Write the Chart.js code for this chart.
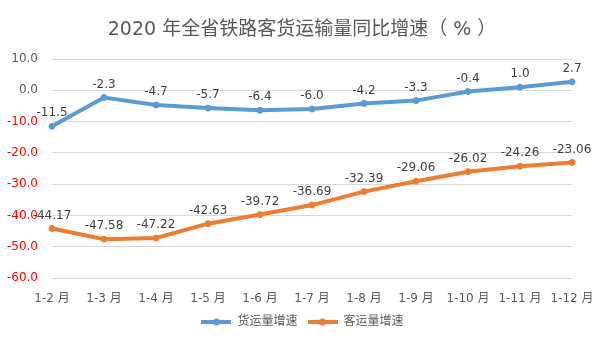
<!DOCTYPE html>
<html>
<head>
<meta charset="utf-8">
<script src="https://cdn.jsdelivr.net/npm/chart.js@4/dist/chart.umd.min.js"></script>
<style>
  html, body { margin: 0; padding: 0; background: #fff; }
  #wrap { width: 605px; height: 340px; }
</style>
</head>
<body>
<div id="wrap"><canvas id="myChart"></canvas></div>
<script>
// months
const months = ['1-2 月', '1-3 月', '1-4 月', '1-5 月', '1-6 月', '1-7 月', '1-8 月', '1-9 月', '1-10 月', '1-11 月', '1-12 月'];
// freight growth (%)
const freight = [-11.5, -2.3, -4.7, -5.7, -6.4, -6.0, -4.2, -3.3, -0.4, 1.0, 2.7];
// passenger growth (%)
const passenger = [-44.17, -47.58, -47.22, -42.63, -39.72, -36.69, -32.39, -29.06, -26.02, -24.26, -23.06];
const freightDigits = 1;
const passengerDigits = 2;
const titleText = '2020 年全省铁路客货运输量同比增速（ % ）';

const FONT = "'DejaVu Sans', 'Noto Sans CJK SC', sans-serif";

// legend marker: line with a dot in the middle
function legendMarker(color) {
    const c = document.createElement('canvas');
    c.width = 30; c.height = 8;
    const g = c.getContext('2d');
    g.strokeStyle = color;
    g.lineWidth = 4;
    g.beginPath(); g.moveTo(0, 4); g.lineTo(30, 4); g.stroke();
    g.fillStyle = color;
    g.beginPath(); g.arc(15, 4, 3.5, 0, Math.PI * 2); g.fill();
    return c;
}

// title + value labels above each point
const extras = {
    id: 'extras',
    afterDraw(chart) {
        const ctx = chart.ctx;
        ctx.save();
        ctx.font = '19px ' + FONT;
        ctx.fillStyle = '#595959';
        ctx.textAlign = 'center';
        ctx.textBaseline = 'middle';
        ctx.fillText(titleText, 302, 30);
        ctx.restore();
    },
    afterDatasetsDraw(chart) {
        const ctx = chart.ctx;
        ctx.save();
        ctx.font = '12px ' + FONT;
        ctx.fillStyle = '#404040';
        ctx.textAlign = 'center';
        ctx.textBaseline = 'bottom';
        chart.data.datasets.forEach(function(ds, i) {
            const meta = chart.getDatasetMeta(i);
            meta.data.forEach(function(pt, j) {
                ctx.fillText(ds.data[j].toFixed(ds.digits), pt.x, pt.y - 7);
            });
        });
        ctx.restore();
    }
};

const ctx = document.getElementById('myChart').getContext('2d');
new Chart(ctx, {
    type: 'line',
    data: {
        labels: months,
        datasets: [{
            label: '货运量增速',
            data: freight,
            digits: freightDigits,
            borderColor: '#5B9BD5',
            backgroundColor: '#5B9BD5',
            borderWidth: 4,
            pointRadius: 3,
            pointBorderWidth: 1,
            pointHoverRadius: 3,
            tension: 0
        }, {
            label: '客运量增速',
            data: passenger,
            digits: passengerDigits,
            borderColor: '#ED7D31',
            backgroundColor: '#ED7D31',
            borderWidth: 4,
            pointRadius: 3,
            pointBorderWidth: 1,
            pointHoverRadius: 3,
            tension: 0
        }]
    },
    options: {
        responsive: true,
        maintainAspectRatio: false,
        animation: false,
        layout: { padding: { left: 0, right: 0, top: 59, bottom: 2 } },
        scales: {
            x: {
                offset: false,
                grid: { display: false },
                border: { display: false },
                ticks: {
                    color: '#595959',
                    font: { family: FONT, size: 12 },
                    maxRotation: 0,
                    autoSkip: false,
                    padding: 6
                },
                afterFit: function(scale) { scale.height = 28; }
            },
            y: {
                min: -60,
                max: 10,
                grid: { color: '#D9D9D9', drawTicks: false, lineWidth: 1 },
                border: { display: false },
                ticks: {
                    stepSize: 10,
                    padding: 14,
                    font: { family: FONT, size: 12 },
                    color: function(c) { return c.tick.value < 0 ? '#FF0000' : '#595959'; },
                    callback: function(v) { return v.toFixed(1); }
                },
                afterFit: function(scale) { scale.width = 52; }
            },
            // empty right axis, only keeps room on the right
            yRight: {
                position: 'right',
                grid: { display: false },
                border: { display: false },
                ticks: { display: false },
                afterFit: function(scale) { scale.width = 33; }
            }
        },
        plugins: {
            title: { display: false },
            legend: {
                position: 'bottom',
                labels: {
                    color: '#595959',
                    font: { family: FONT, size: 12 },
                    usePointStyle: true,
                    pointStyleWidth: 30,
                    boxHeight: 8,
                    padding: 10,
                    generateLabels: function(chart) {
                        const items = Chart.defaults.plugins.legend.labels.generateLabels(chart);
                        items.forEach(function(it, i) {
                            it.pointStyle = legendMarker(chart.data.datasets[i].borderColor);
                        });
                        return items;
                    }
                }
            },
            tooltip: { enabled: false }
        }
    },
    plugins: [extras]
});
</script>
</body>
</html>
